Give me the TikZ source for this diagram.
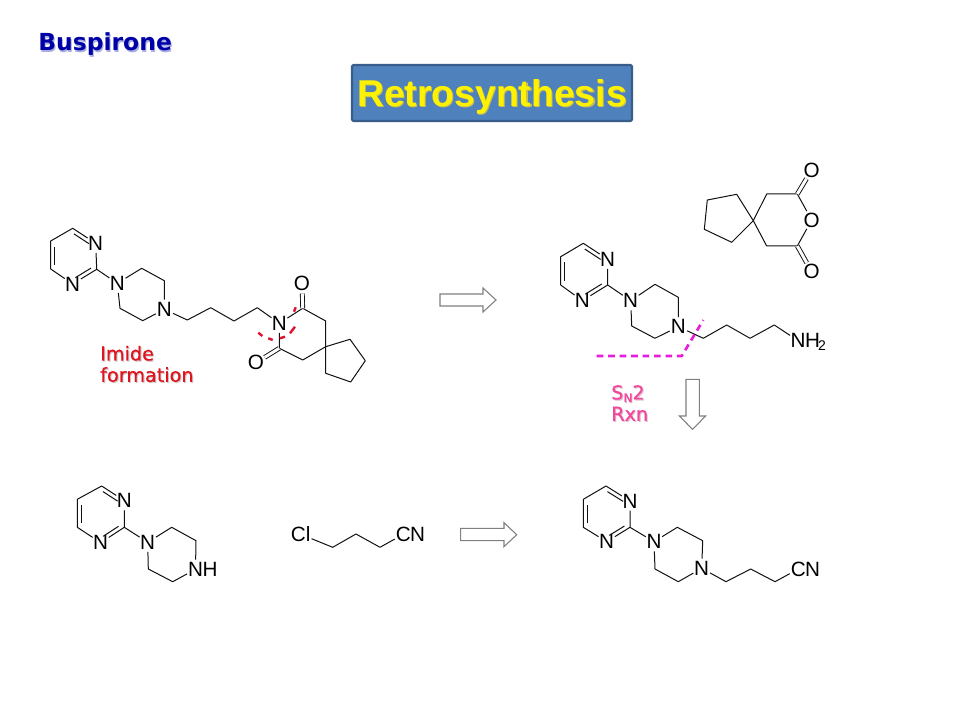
\documentclass[tikz,border=0pt]{standalone}
\usepackage{fontspec}
\setmainfont{Liberation Sans}
\newfontfamily\vfont{DejaVu Sans}
\newfontfamily\vfontb[FakeBold=0.5]{DejaVu Sans}
\usetikzlibrary{calc}
\definecolor{boxfill}{HTML}{4F81BD}
\definecolor{boxline}{HTML}{385D8A}
\definecolor{titleblue}{HTML}{0000A8}
\definecolor{titleshadow}{HTML}{A8AEE0}
\definecolor{retroshadow}{HTML}{C9BE50}
\definecolor{imidered}{HTML}{E0141E}
\definecolor{softshadow}{HTML}{D0C4C4}
\definecolor{pinkshadow}{HTML}{E0C0D0}
\definecolor{snpink}{HTML}{F0489C}
\definecolor{cutred}{HTML}{E01030}
\definecolor{cutmag}{HTML}{E61EDC}
\definecolor{arrowgrey}{HTML}{808080}
\definecolor{bondcol}{HTML}{111111}
\newcommand{\shadowed}[2]{\leavevmode\rlap{\kern0.8pt\raisebox{-0.8pt}{\textcolor{#1}{#2}}}#2}
\newcommand{\innerbond}[2]{\draw[bond] ($(#1)!0.2!(#2)!3pt!90:(#2)$) -- ($(#1)!0.85!(#2)!3pt!-90:(#1)$);}
% pyrimidine double bonds, given the prefix of a molecule
\newcommand{\pyrbonds}[1]{%
  \draw[bond] (#1t) -- (#1na) -- (#1c) -- (#1nb) -- (#1d) -- (#1e) -- (#1t);
  \innerbond{#1na}{#1t}
  \innerbond{#1e}{#1d}
  \innerbond{#1nb}{#1c}
  \draw[bond] (#1c) -- (#1pa) -- (#1pb) -- (#1pc) -- (#1pd) -- (#1pe) -- (#1pf) -- (#1pa);
}
\tikzset{
  bond/.style={draw=bondcol,line width=0.75pt,line join=round},
  atom/.style={circle,inner sep=0pt,outer sep=-0.5pt,font=\fontsize{15.5pt}{17pt}\selectfont,text=black},
  carbonyl/.style={draw=bondcol,line width=0.7pt,double=white,double distance=2.2pt},
  blockarrow/.style={draw=arrowgrey,fill=white,line width=0.8pt,line join=miter},
  titlebox/.style={draw=boxline,fill=boxfill,line width=1.6pt,rounded corners=1pt,inner sep=0pt,minimum width=210pt,minimum height=42pt},
  titletext/.style={inner sep=0pt,font=\bfseries\fontsize{28pt}{30pt}\selectfont,text=yellow},
  heading/.style={anchor=west,inner sep=0pt,font=\vfont\bfseries\fontsize{17.6pt}{20pt}\selectfont,text=titleblue},
  rxnlabel/.style={anchor=west,inner sep=0pt,align=left,font=\vfontb\fontsize{14.4pt}{16pt}\selectfont},
  cutA/.style={draw=cutred,line width=1.8pt},
  cutB/.style={draw=cutmag,line width=2pt,dash pattern=on 5pt off 3.6pt},
}
\begin{document}
\begin{tikzpicture}[x=0.75pt,y=-0.75pt]
\useasboundingbox (0,0) rectangle (960,720);
\node[heading] (title) at (38,45) {\shadowed{titleshadow}{Buspirone}};
\node[titlebox] (retro) at (492,93) {};
\node[titletext] (retrotext) at (492,97) {\shadowed{retroshadow}{Retrosynthesis}};

% ---- Buspirone
\coordinate (at) at (72.7,228.3);
\node[atom] (ana) at (95.7,243.3) {N};
\coordinate (ac) at (96.7,269.3);
\node[atom] (anb) at (72.7,284) {N};
\coordinate (ad) at (50.7,269);
\coordinate (ae) at (50.7,241);
\node[atom] (apa) at (117.3,283.3) {N};
\coordinate (apb) at (141.7,268.3);
\coordinate (apc) at (164.3,280.7);
\node[atom] (apd) at (164.3,309.3) {N};
\coordinate (ape) at (142.7,320.7);
\coordinate (apf) at (120,308.3);
\pyrbonds{a}
\coordinate (a1) at (187.3,320);
\coordinate (a2) at (210.7,307.7);
\coordinate (a3) at (234,321);
\coordinate (a4) at (257.3,307.7);
\node[atom] (an) at (279.3,323.3) {N};
\coordinate (ak1) at (302.7,308.3);
\node[atom] (ao1) at (302,283.3) {O};
\coordinate (ak2) at (325.7,321);
\coordinate (as) at (325.7,346.7);
\coordinate (ak3) at (302.7,360);
\coordinate (ak4) at (279.3,348.3);
\node[atom] (ao2) at (256,362.7) {O};
\coordinate (ar1) at (350,339.3);
\coordinate (ar2) at (365.3,360.7);
\coordinate (ar3) at (350.7,382);
\coordinate (ar4) at (325.7,373.3);
\draw[bond] (apd) -- (a1) -- (a2) -- (a3) -- (a4) -- (an) -- (ak1) -- (ak2) -- (as) -- (ak3) -- (ak4) -- (an);
\draw[bond] (as) -- (ar1) -- (ar2) -- (ar3) -- (ar4) -- (as);
\draw[carbonyl] (ak1) -- (ao1);
\draw[carbonyl] (ak4) -- (ao2);
\draw[cutA] (258.3,332.7) -- (262.3,336) (268.3,338.3) -- (272.7,340) (280,338.3) -- (285,336.7) (290,333.3) -- (295,326.7) (294,311.7) -- (295.7,307.3);
\node[rxnlabel,text=imidered] (imide) at (100,364.5) {\shadowed{softshadow}{Imide}\\\shadowed{softshadow}{formation}};

% ---- arrow 1
\draw[blockarrow] (440,294) -- (483,294) -- (483,288) -- (496,300) -- (483,312) -- (483,306) -- (440,306) -- cycle;

% ---- anhydride
\coordinate (dr1) at (736.7,194.3);
\coordinate (dr2) at (707.3,200);
\coordinate (dr3) at (704.3,229.3);
\coordinate (dr4) at (731.7,242.3);
\coordinate (ds) at (753.3,220.7);
\coordinate (dk1) at (766.7,194);
\coordinate (dk2) at (797.3,194);
\node[atom] (do1) at (811.7,170) {O};
\node[atom] (do2) at (811.7,220) {O};
\coordinate (dk3) at (797.3,246);
\node[atom] (do3) at (811.7,271.7) {O};
\coordinate (dk4) at (766.7,246);
\draw[bond] (ds) -- (dr1) -- (dr2) -- (dr3) -- (dr4) -- (ds);
\draw[bond] (ds) -- (dk1) -- (dk2) -- (do2) -- (dk3) -- (dk4) -- (ds);
\draw[carbonyl] (dk2) -- (do1);
\draw[carbonyl] (dk3) -- (do3);

% ---- amine
\coordinate (bt) at (583.3,243.3);
\node[atom] (bna) at (607.7,259.3) {N};
\coordinate (bc) at (607.7,285);
\node[atom] (bnb) at (582.3,300.7) {N};
\coordinate (bd) at (560.7,285);
\coordinate (be) at (560.7,256.7);
\node[atom] (bpa) at (630.7,300.7) {N};
\coordinate (bpb) at (655,284.3);
\coordinate (bpc) at (678.3,297.3);
\node[atom] (bpd) at (678.3,326.7) {N};
\coordinate (bpe) at (655,338.3);
\coordinate (bpf) at (631.7,326);
\pyrbonds{b}
\coordinate (b1) at (703.3,338.3);
\coordinate (b2) at (726.7,325);
\coordinate (b3) at (750,338.3);
\coordinate (b4) at (774.3,325);
\node[atom] (bnh) at (798,340.7) {N};
\node[atom] (bh) at (812.5,340.7) {H};
\node[atom,font=\fontsize{10.5pt}{11pt}\selectfont] (b2n) at (822,345.5) {2};
\draw[bond] (bpd) -- (b1) -- (b2) -- (b3) -- (b4) -- (bnh);
\draw[cutB] (596.7,356) -- (681.7,356) -- (703.3,320);
\node[rxnlabel,text=snpink] (sn) at (611,403.5) {\shadowed{pinkshadow}{S\raisebox{-2pt}{\fontsize{9pt}{10pt}\selectfont N}2}\\\shadowed{pinkshadow}{Rxn}};

% ---- arrow 2
\draw[blockarrow] (686,379.3) -- (699.3,379.3) -- (699.3,416) -- (705.7,416) -- (692.5,429.3) -- (679.3,416) -- (686,416) -- cycle;

% ---- pyrimidinylpiperazine
\coordinate (ct) at (101.7,486);
\node[atom] (cna) at (124.3,500.7) {N};
\coordinate (cc) at (124.3,527.3);
\node[atom] (cnb) at (100.7,542.7) {N};
\coordinate (cd) at (77.3,527.3);
\coordinate (ce) at (77.3,499.3);
\node[atom] (cpa) at (147.7,542.3) {N};
\coordinate (cpb) at (171.7,527.3);
\coordinate (cpc) at (196,540.7);
\node[atom] (cpd) at (195.5,569.3) {N};
\node[atom] (cph) at (210,569.3) {H};
\coordinate (cpe) at (172.7,581.7);
\coordinate (cpf) at (148.3,569);
\pyrbonds{c}

% ---- chlorobutyronitrile
\node[atom] (ecl) at (300.7,534.3) {Cl};
\coordinate (e1) at (332.7,547.3);
\coordinate (e2) at (356,534);
\coordinate (e3) at (380,547.3);
\node[atom] (ec) at (403.3,534.3) {C};
\node[atom] (en) at (417.5,534.3) {N};
\draw[bond] (ecl) -- (e1) -- (e2) -- (e3) -- (ec);

% ---- arrow 3
\draw[blockarrow] (460.7,528.3) -- (504,528.3) -- (504,522.7) -- (516.7,534.7) -- (504,546.7) -- (504,540.7) -- (460.7,540.7) -- cycle;

% ---- nitrile product
\coordinate (ft) at (606,486);
\node[atom] (fna) at (630,501) {N};
\coordinate (fc) at (630,527.3);
\node[atom] (fnb) at (606.7,541.7) {N};
\coordinate (fd) at (583.3,527.3);
\coordinate (fe) at (583.3,499.3);
\node[atom] (fpa) at (654,541.7) {N};
\coordinate (fpb) at (677.3,527.3);
\coordinate (fpc) at (702.7,540.7);
\node[atom] (fpd) at (701.7,568.3) {N};
\coordinate (fpe) at (678.3,581.7);
\coordinate (fpf) at (655,569);
\pyrbonds{f}
\coordinate (f1) at (726,581.7);
\coordinate (f2) at (750.7,569);
\coordinate (f3) at (775,581.7);
\node[atom] (fcn) at (798.3,569) {C};
\node[atom] (fnn) at (812.5,569) {N};
\draw[bond] (fpd) -- (f1) -- (f2) -- (f3) -- (fcn);
\end{tikzpicture}
\end{document}
